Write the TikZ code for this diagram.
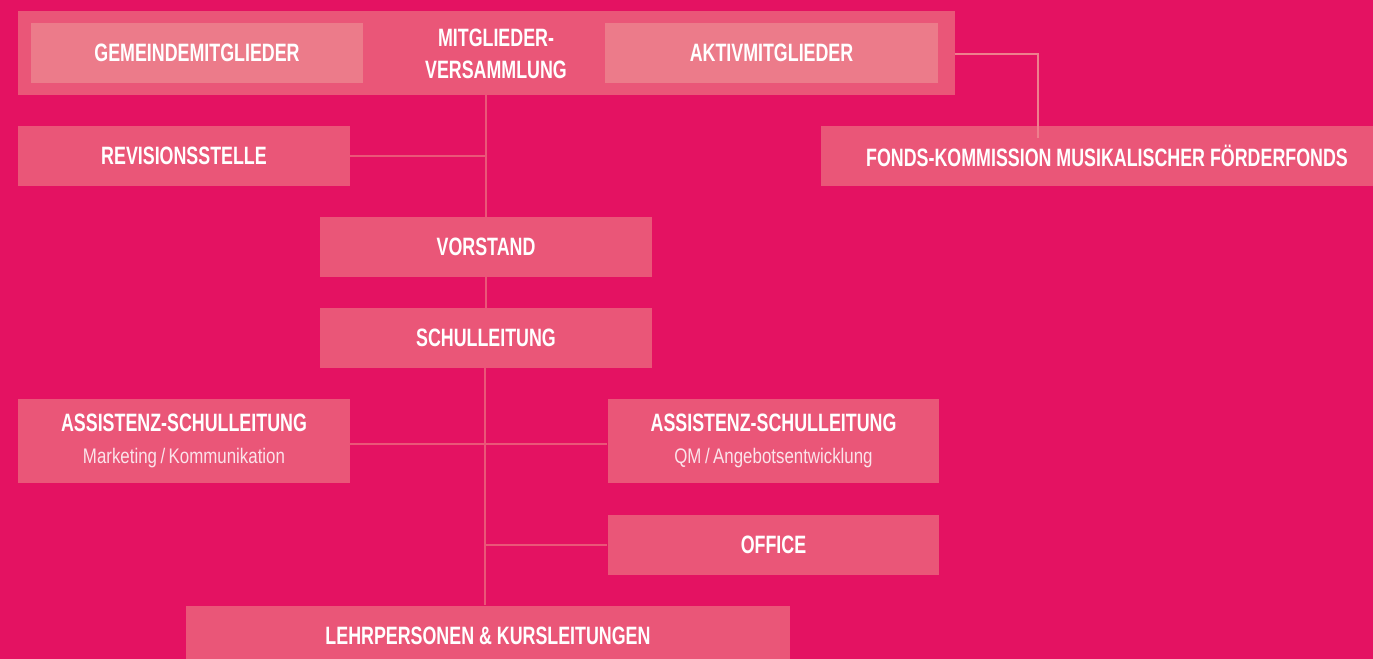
\documentclass[tikz,border=0pt]{standalone}
\usepackage{fontspec}
\setmainfont{Liberation Sans}
\newfontfamily\condfont[FakeStretch=0.71]{Liberation Sans}
\newfontfamily\subfont[FakeStretch=0.8]{Liberation Sans}
\definecolor{bgpink}{HTML}{E41262}
\definecolor{boxpink}{HTML}{EA5678}
\definecolor{innerpink}{HTML}{EC7B8A}
\definecolor{linepink}{HTML}{EE7F8D}
\definecolor{subwhite}{HTML}{FBE3EA}
\newcommand{\subline}[1]{\\[0pt]{\subfont\mdseries\fontsize{12}{14}\selectfont\color{subwhite}#1}}
\begin{document}
\begin{tikzpicture}[x=0.02cm,y=-0.02cm,
    orgbox/.style={fill=boxpink,inner sep=0pt,minimum width=6.64cm,minimum height=1.2cm,
      text=white,align=center,font=\condfont\bfseries\fontsize{14.3}{18}\selectfont},
    subbox/.style={orgbox,fill=innerpink},
    conn/.style={draw=boxpink,line width=0.04cm}]
  \clip (0,0) rectangle (1373,659);
  \fill[bgpink] (0,0) rectangle (1373,659);
  % top level
  \node[orgbox,minimum width=18.74cm,minimum height=1.68cm] (mv) at (486.5,53) {};
  \node[subbox] (gm) at (197,53) {GEMEINDEMITGLIEDER};
  \node[subbox,minimum width=6.66cm] (am) at (771.5,53) {AKTIVMITGLIEDER};
  \node[align=center,text=white,font=\condfont\bfseries\fontsize{14.3}{18.2}\selectfont] (mvtext) at (496,54) {MITGLIEDER-\\VERSAMMLUNG};
  \node[orgbox] (rev) at (184,156) {REVISIONSSTELLE};
  \node[orgbox,minimum width=11.44cm] (fk) at (1107,156) {FONDS-KOMMISSION MUSIKALISCHER FÖRDERFONDS};
  % leitung
  \node[orgbox] (vor) at (486,247) {VORSTAND};
  \node[orgbox] (schul) at (486,338) {SCHULLEITUNG};
  \node[orgbox,minimum height=1.7cm] (asl) at (184,441) {ASSISTENZ-SCHULLEITUNG\subline{Marketing\,/\,Kommunikation}};
  \node[orgbox,minimum height=1.7cm] (asr) at (773.5,441) {ASSISTENZ-SCHULLEITUNG\subline{QM\,/\,Angebotsentwicklung}};
  \node[orgbox] (off) at (773.5,544.5) {OFFICE};
  \node[orgbox,minimum width=12.08cm] (lehr) at (488,636) {LEHRPERSONEN \& KURSLEITUNGEN};
  % connectors
  \draw[conn] (486,95) -- (vor.north);
  \draw[conn] (rev.east) -- (486,156);
  \draw[conn] (vor.south) -- (schul.north);
  \draw[conn] (485,368) -- (485,605);
  \draw[conn] (asl.east |- 0,444) -- (asr.west |- 0,444);
  \draw[conn] (485,544.5) -- (off.west);
  \coordinate (fkend) at (1038,138);
  \draw[conn,draw=linepink] (mv.east |- 0,54) -| (fkend);
\end{tikzpicture}
\end{document}
